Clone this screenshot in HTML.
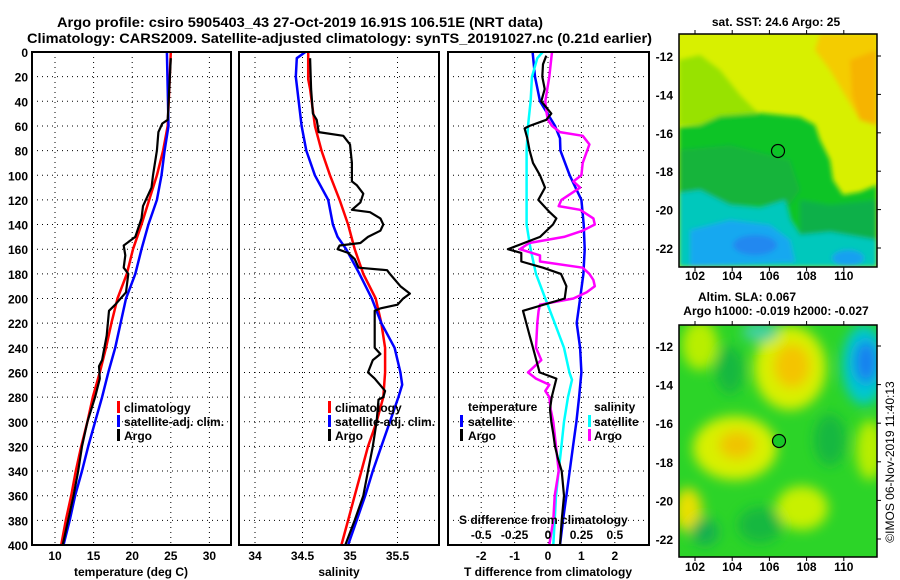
<!DOCTYPE html>
<html><head><meta charset="utf-8"><style>
html,body{margin:0;padding:0;background:#fff;}
svg{display:block;font-family:"Liberation Sans",sans-serif;font-weight:bold;}
</style></head><body>
<svg id="c" width="900" height="580" viewBox="0 0 900 580" xmlns="http://www.w3.org/2000/svg">
<defs>
<filter id="bl" x="-20%" y="-20%" width="140%" height="140%"><feGaussianBlur stdDeviation="2.5"/></filter>
<filter id="bl2" x="-30%" y="-30%" width="160%" height="160%"><feGaussianBlur stdDeviation="6"/></filter>
<clipPath id="m1"><rect x="679" y="34" width="198" height="233"/></clipPath>
<clipPath id="m2"><rect x="679" y="325" width="198" height="232"/></clipPath>
</defs>
<text x="57" y="27" font-size="14" textLength="486" lengthAdjust="spacingAndGlyphs">Argo profile: csiro 5905403_43 27-Oct-2019 16.91S 106.51E (NRT data)</text>
<text x="27" y="43" font-size="14" textLength="625" lengthAdjust="spacingAndGlyphs">Climatology: CARS2009. Satellite-adjusted climatology: synTS_20191027.nc (0.21d earlier)</text>
<g id="grids"></g>
<g id="series"></g>
<g id="frames"></g>
<g id="labels" font-size="12"></g>

<g font-size="12">
<rect x="117" y="401" width="3" height="12" fill="#f00"/><text x="124" y="412">climatology</text>
<rect x="117" y="415" width="3" height="12" fill="#00f"/><text x="124" y="426">satellite-adj. clim.</text>
<rect x="117" y="429" width="3" height="12" fill="#000"/><text x="124" y="440">Argo</text>
</g>
<g font-size="12">
<rect x="328" y="401" width="3" height="12" fill="#f00"/><text x="335" y="412">climatology</text>
<rect x="328" y="415" width="3" height="12" fill="#00f"/><text x="335" y="426">satellite-adj. clim.</text>
<rect x="328" y="429" width="3" height="12" fill="#000"/><text x="335" y="440">Argo</text>
</g>
<g font-size="12">
<text x="468" y="411">temperature</text>
<rect x="460" y="415" width="3" height="12" fill="#00f"/><text x="468" y="426">satellite</text>
<rect x="460" y="429" width="3" height="12" fill="#000"/><text x="468" y="440">Argo</text>
<text x="594" y="411">salinity</text>
<rect x="588" y="415" width="3" height="12" fill="#0ff"/><text x="594" y="426">satellite</text>
<rect x="588" y="429" width="3" height="12" fill="#f0f"/><text x="594" y="440">Argo</text>
<text x="459" y="524">S difference from climatology</text>
</g>

<!-- map 1 -->
<g>
<g clip-path="url(#m1)">
<rect x="679" y="34" width="198" height="233" fill="#d8f000"/>
<g filter="url(#bl)">
<polygon points="820,34 877,34 877,125 860,120 845,95 830,70 815,50" fill="#f4cc00"/>
<polygon points="850,60 877,50 877,125 860,120 852,95" fill="#f6b400"/>
<polygon points="679,60 700,55 720,70 740,95 760,115 740,120 700,125 679,125" fill="#98e200"/>
<polygon points="679,127 700,125 720,116 760,113 800,117 815,125 820,140 830,160 833,180 843,195 860,192 877,185 877,267 679,267" fill="#10c428"/>
<polygon points="679,150 730,145 790,160 800,190 790,205 679,205" fill="#12b43a"/>
<polygon points="800,200 830,205 877,200 877,267 800,267" fill="#10b048"/>
<polygon points="679,193 700,190 730,205 760,208 785,200 790,220 800,235 830,232 877,240 877,267 679,267" fill="#00c8bc"/>
<polygon points="690,230 730,220 770,225 790,240 795,262 690,267" fill="#18a8f0"/>
<ellipse cx="755" cy="245" rx="22" ry="10" fill="#2088f0"/>
<ellipse cx="848" cy="258" rx="16" ry="8" fill="#18a0f0"/>
</g>
</g>
<rect x="679" y="34" width="198" height="233" fill="none" stroke="#000" stroke-width="1.5"/>
<circle cx="778" cy="151" r="6.5" fill="none" stroke="#000" stroke-width="1.2"/>
</g>
<text x="776" y="26" font-size="12" text-anchor="middle">sat. SST: 24.6 Argo: 25</text>

<!-- map 2 -->
<g>
<g clip-path="url(#m2)">
<rect x="679" y="325" width="198" height="232" fill="#2cd428"/>
<g filter="url(#bl2)">
<ellipse cx="790" cy="368" rx="36" ry="42" fill="#d8f000"/>
<ellipse cx="792" cy="366" rx="18" ry="22" fill="#f4c400"/>
<ellipse cx="864" cy="365" rx="22" ry="40" fill="#00c8d0"/>
<ellipse cx="866" cy="362" rx="12" ry="22" fill="#1480f0"/>
<ellipse cx="735" cy="448" rx="42" ry="32" fill="#d8f000"/>
<ellipse cx="737" cy="445" rx="18" ry="14" fill="#f0c400"/>
<ellipse cx="688" cy="510" rx="14" ry="22" fill="#e8e000"/>
<ellipse cx="802" cy="508" rx="26" ry="22" fill="#c8f000"/>
<ellipse cx="870" cy="450" rx="14" ry="30" fill="#b8ee00"/>
<ellipse cx="700" cy="345" rx="18" ry="25" fill="#b8ee00"/>
<ellipse cx="730" cy="370" rx="14" ry="24" fill="#18b840"/>
<ellipse cx="830" cy="440" rx="16" ry="26" fill="#18b840"/>
<ellipse cx="760" cy="525" rx="22" ry="18" fill="#18b840"/>
<ellipse cx="705" cy="532" rx="14" ry="14" fill="#18b050"/>
<ellipse cx="760" cy="332" rx="18" ry="10" fill="#40d0a0"/>
</g>
</g>
<rect x="679" y="325" width="198" height="232" fill="none" stroke="#000" stroke-width="1.5"/>
<circle cx="779" cy="441" r="6.5" fill="#18c828" stroke="#000" stroke-width="1.2"/>
</g>
<text x="747" y="301" font-size="12" text-anchor="middle">Altim. SLA: 0.067</text>
<text x="776" y="315" font-size="12" text-anchor="middle">Argo h1000: -0.019 h2000: -0.027</text>
<text transform="translate(894,462) rotate(-90)" font-size="12" font-weight="normal" text-anchor="middle">©IMOS 06-Nov-2019 11:40:13</text>
<g id="maplabels" font-size="12"></g>
</svg>
<script>
const depthTicks=[0,20,40,60,80,100,120,140,160,180,200,220,240,260,280,300,320,340,360,380,400];
const tempTicks=[10,15,20,25,30];
const salTicks=[34,34.5,35,35.5];
const tdiffTicks=[-2,-1,0,1,2];
const sdiffTicks=[-0.5,-0.25,0,0.25,0.5];
const lonTicks=[102,104,106,108,110];
const latTicks=[-12,-14,-16,-18,-20,-22];

const tClimDepth=[0,60,80,100,120,140,160,180,200,220,240,260,280,300,320,340,360,380,400];
const tClimVal=[25.0,24.6,24.0,23.2,22.2,21.2,20.1,19.3,18.1,17.3,16.6,15.8,14.9,14.2,13.4,12.7,12.1,11.4,10.8];
const tSatDepth=[0,60,80,100,120,140,160,180,200,220,240,260,280,300,320,340,360,380,400];
const tSatVal=[24.5,24.7,24.2,23.8,23.2,22.1,21.2,20.4,19.2,18.5,17.8,16.9,16.1,15.2,14.3,13.5,12.6,11.9,11.1];
const tArgoDepth=[5,55,58,65,80,100,110,125,135,150,157,165,175,180,195,205,210,230,250,255,265,280,300,320,340,360,380,400];
const tArgoVal=[25.0,24.6,23.9,23.4,23.2,22.7,22.5,21.4,21.2,20.4,18.9,19.1,18.9,19.5,19.2,17.8,17.0,16.7,16.1,15.7,15.8,15.2,14.2,13.5,13.0,12.4,11.7,11.0];

const sClimDepth=[0,22,30,60,80,100,120,140,160,180,200,220,240,260,280,300,320,340,360,380,400];
const sClimVal=[34.56,34.56,34.58,34.63,34.70,34.79,34.89,34.98,35.05,35.14,35.27,35.33,35.37,35.37,35.35,35.28,35.19,35.12,35.05,34.98,34.91];
const sSatDepth=[0,5,20,40,60,80,100,120,140,150,160,180,200,220,240,260,270,280,300,320,340,360,380,400];
const sSatVal=[34.53,34.44,34.43,34.46,34.49,34.54,34.63,34.77,34.82,34.87,34.96,35.10,35.23,35.33,35.47,35.53,35.55,35.51,35.42,35.33,35.24,35.16,35.07,34.98];
const sArgoDepth=[5,30,50,55,65,68,75,90,105,108,115,122,128,130,135,140,145,150,155,157,160,163,168,175,177,180,190,196,200,205,208,210,220,240,245,250,260,265,275,280,282,300,320,340,360,380,400];
const sArgoVal=[34.58,34.59,34.61,34.65,34.67,34.93,35.00,35.02,35.02,35.07,35.14,35.11,35.02,35.21,35.32,35.35,35.32,35.19,35.11,34.89,34.87,34.98,35.05,35.09,35.39,35.42,35.53,35.63,35.56,35.50,35.32,35.26,35.26,35.26,35.32,35.24,35.19,35.26,35.37,35.35,35.30,35.28,35.24,35.19,35.14,35.05,34.95];

const dTSatDepth=[0,20,40,60,70,80,100,120,140,160,180,200,220,240,260,280,300,320,340,360,380,400];
const dTSatVal=[-0.46,-0.39,-0.24,0.21,0.36,0.37,0.65,1.0,1.07,1.1,1.06,0.96,0.86,0.96,1.0,0.93,0.85,0.75,0.65,0.55,0.45,0.36];
const dTArgoDepth=[3,10,20,30,40,50,55,60,62,70,80,90,100,110,120,130,135,140,150,160,163,170,175,180,190,200,210,220,230,240,250,260,265,280,290,300,310,320,330,340,360,380,400];
const dTArgoVal=[-0.05,-0.15,-0.17,-0.1,-0.2,0.1,-0.05,-0.55,-0.7,-0.62,-0.55,-0.45,-0.24,-0.09,-0.29,0.05,0.25,0.15,-0.24,-1.2,-0.8,-0.8,-0.15,0.39,0.55,0.5,-0.75,-0.65,-0.55,-0.45,-0.35,-0.25,0.25,0.11,0.06,0.1,0.16,0.21,0.3,0.41,0.48,0.41,0.36];
const dSSatDepth=[0,5,20,40,60,80,100,120,140,160,180,200,220,240,260,266,280,300,320,340,360,380,400];
const dSSatVal=[-0.04,-0.08,-0.12,-0.13,-0.15,-0.16,-0.16,-0.16,-0.16,-0.13,-0.09,-0.02,0.05,0.12,0.16,0.18,0.15,0.12,0.10,0.08,0.06,0.05,0.04];
const dSArgoDepth=[0,20,40,50,55,60,65,68,75,90,100,105,110,120,125,128,135,140,145,150,155,160,165,170,175,180,185,190,195,200,205,210,220,240,250,260,265,270,275,280,290,300,320,340,360,380,400];
const dSArgoVal=[0.03,0.01,-0.02,-0.01,0,0.03,0.09,0.26,0.31,0.26,0.25,0.19,0.24,0.1,0.08,0.24,0.34,0.35,0.26,0.12,-0.14,-0.21,-0.06,-0.06,0.26,0.31,0.34,0.35,0.29,0.19,-0.06,-0.07,-0.08,-0.09,-0.05,-0.15,-0.09,0.01,-0.02,0.01,0.02,0.04,0.06,0.08,0.05,0.04,0.01];

const NS="http://www.w3.org/2000/svg";
const yD=d=>52+d*1.2325;
const xT=t=>55+(t-10)*7.72;
const xS=s=>255+(s-34)*95;
const xDT=t=>548+t*33.4;
const xDS=s=>548+s*133.6;
const mx1=lon=>695+(lon-102)*18.6;
const my1=lat=>56+(-12-lat)*19.2;
const my2=lat=>346+(-12-lat)*19.3;
const panels=[[32,231],[239,439],[448,649]];

function mk(tag,attrs,parent){const e=document.createElementNS(NS,tag);for(const k in attrs)e.setAttribute(k,attrs[k]);parent.appendChild(e);return e;}
const G=document.getElementById('grids'),S=document.getElementById('series'),F=document.getElementById('frames'),L=document.getElementById('labels'),ML=document.getElementById('maplabels');

function vgrid(x){const l=mk('line',{x1:x,x2:x,y1:52,y2:545,stroke:'#000','stroke-width':1,'stroke-dasharray':'1,4'},G);

}
panels.forEach((p,i)=>{
 depthTicks.forEach(d=>{if(d===0||d===400)return;const l=mk('line',{x1:p[0],x2:p[1],y1:yD(d),y2:yD(d),stroke:'#000','stroke-width':1,'stroke-dasharray':'1,4'},G);
 
 });
 const r=mk('rect',{x:p[0],y:52,width:p[1]-p[0],height:493,fill:'none',stroke:'#000','stroke-width':2},F);
 
 
});
tempTicks.forEach(t=>vgrid(xT(t)));
salTicks.forEach(s=>vgrid(xS(s)));
tdiffTicks.forEach(t=>vgrid(xDT(t)));

depthTicks.forEach(d=>{const t=mk('text',{x:28,y:yD(d)+5,'text-anchor':'end'},L);t.textContent=d;
 
 });
tempTicks.forEach(v=>{const t=mk('text',{x:xT(v),y:560,'text-anchor':'middle'},L);t.textContent=v;
 
 });
salTicks.forEach(v=>{const t=mk('text',{x:xS(v),y:560,'text-anchor':'middle'},L);t.textContent=v;
 
 });
tdiffTicks.forEach(v=>{const t=mk('text',{x:xDT(v),y:560,'text-anchor':'middle'},L);t.textContent=v;
 
 });
sdiffTicks.forEach(v=>{const t=mk('text',{x:xDS(v),y:539,'text-anchor':'middle'},L);t.textContent=v;
 
 });
[['temperature (deg C)',131,'temperature-axis-title'],['salinity',339,'salinity-axis-title'],['T difference from climatology',548,'t-diff-axis-title']].forEach(a=>{
 const t=mk('text',{x:a[1],y:576,'text-anchor':'middle'},L);t.textContent=a[0];
 
 });

lonTicks.forEach(v=>{
 [[280,34,267],[571,325,557]].forEach(m=>{
  const t=mk('text',{x:mx1(v),y:m[0],'text-anchor':'middle'},ML);t.textContent=v;
  
  
  mk('line',{x1:mx1(v),x2:mx1(v),y1:m[1]-4,y2:m[1],stroke:'#000'},ML);
  mk('line',{x1:mx1(v),x2:mx1(v),y1:m[2],y2:m[2]+4,stroke:'#000'},ML);
 });
});
latTicks.forEach(v=>{
 [[my1(v)],[my2(v)]].forEach(m=>{
  const t=mk('text',{x:673,y:m[0]+5,'text-anchor':'end'},ML);t.textContent=v;
  
  
  mk('line',{x1:877,x2:881,y1:m[0],y2:m[0],stroke:'#000'},ML);
 });
});

function series(dep,val,xf,color,w,name){
 const pts=dep.map((d,i)=>xf(val[i]).toFixed(1)+','+yD(d).toFixed(1)).join(' ');
 const p=mk('polyline',{points:pts,fill:'none',stroke:color,'stroke-width':w,'stroke-linejoin':'round'},S);
 
 
}
series(tClimDepth,tClimVal,xT,'#f00',2.5,'temperature-climatology-line');
series(tSatDepth,tSatVal,xT,'#00f',2.5,'temperature-satellite-line');
series(tArgoDepth,tArgoVal,xT,'#000',2.2,'temperature-argo-line');
series(sClimDepth,sClimVal,xS,'#f00',2.5,'salinity-climatology-line');
series(sSatDepth,sSatVal,xS,'#00f',2.5,'salinity-satellite-line');
series(sArgoDepth,sArgoVal,xS,'#000',2.2,'salinity-argo-line');
series(dTSatDepth,dTSatVal,xDT,'#00f',2.5,'t-diff-satellite-line');
series(dSSatDepth,dSSatVal,xDS,'#0ff',2.5,'s-diff-satellite-line');
series(dSArgoDepth,dSArgoVal,xDS,'#f0f',2.5,'s-diff-argo-line');
series(dTArgoDepth,dTArgoVal,xDT,'#000',2.2,'t-diff-argo-line');
</script>
</body></html>
